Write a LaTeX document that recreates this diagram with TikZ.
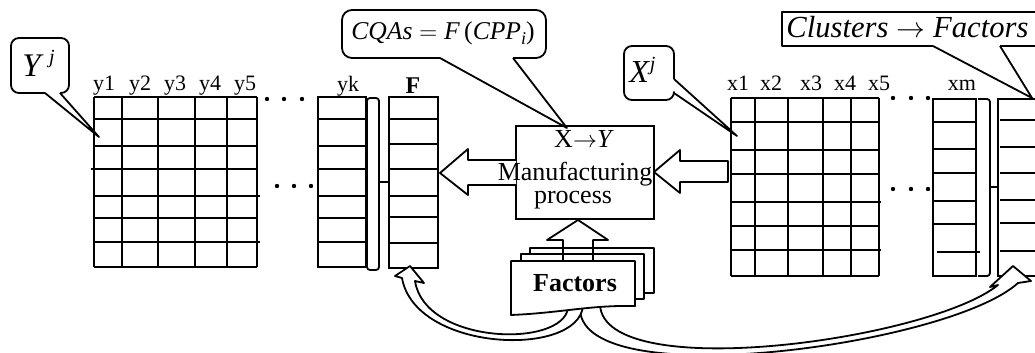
\documentclass[tikz,border=0pt]{standalone}
\usepackage{fontspec}
\setmainfont{Liberation Serif}
\newcommand{\supj}[2]{\raisebox{#1}{\fontsize{#2}{#2}\selectfont\textit{j}}}
\begin{document}
\begin{tikzpicture}[x=0.5pt,y=-0.5pt,
  ln/.style={line width=1pt},
  cl/.style={line width=0.9pt, line join=round},
  lbl/.style={anchor=base, inner sep=0pt, font=\fontsize{11}{13}\selectfont},
  txt/.style={anchor=base, inner sep=0pt, font=\fontsize{13}{15}\selectfont},
  dotm/.style={fill=black}]
\clip (0,0) rectangle (1035,353);
% ---------------- Y matrix ----------------
\foreach \x in {94,122,158,195,227,257} \draw[ln] (\x,97) -- (\x,267);
\foreach \y in {97,119,146,169,196,218,242,267} \draw[ln] (94,\y) -- (257,\y);
\draw[ln] (91,169) -- (94,169);
\draw[ln] (257,196) -- (260,196);
\draw[ln] (257,242) -- (260,242);
\foreach \x in {267,284,302} \fill (\x,99) circle[radius=2.2];
\foreach \x in {277,294,311} \fill (\x,186) circle[radius=2.2];
\draw[ln] (318,97) rectangle (366,267);
\foreach \y in {119,146,169,196,218,242} \draw[ln] (318,\y) -- (367,\y);
\draw[cl, rounded corners=1.5pt] (367,98) rectangle (379,270);
\draw[ln] (379,182) -- (389,182);
\draw[ln] (389,97) rectangle (438,268);
\foreach \y in {119,144,169,196,217,243} \draw[ln] (389,\y) -- (438,\y);
\foreach \n/\x/\t in {ly1/104/y1,ly2/140/y2,ly3/175/y3,ly4/210/y4,ly5/245/y5}
  \node[lbl] (\n) at (\x,91) {\t};
\node[lbl] (lyk) at (348,92) {yk};
\node[lbl, font=\fontsize{12}{14}\selectfont\bfseries] (lF) at (413,94) {F};
% ---------------- X matrix ----------------
\foreach \x in {731,755,788,823,851,879} \draw[ln] (\x,98) -- (\x,276);
\foreach \y in {98,122,150,174,202,226,250,276} \draw[ln] (731,\y) -- (879,\y);
\draw[ln] (879,202) -- (881,202);
\draw[ln] (879,250) -- (881,250);
\foreach \x in {893,911,928} \fill (\x,98) circle[radius=2.2];
\foreach \x in {893,911,928} \fill (\x,189) circle[radius=2.2];
\draw[ln] (933,99) rectangle (976,276);
\foreach \y in {122,149,173,201,224} \draw[ln] (933,\y) -- (976,\y);
\draw[ln] (937,252) -- (980,252);
\draw[cl, rounded corners=1.5pt] (978,99) -- (990,99) -- (990,276) -- (978,276);
\draw[ln] (990,187) -- (998,187);
\draw[ln] (998,99) rectangle (1050,276);
\foreach \y in {120,147,173,200,223,251} \draw[ln] (1000,\y) -- (1050,\y);
\foreach \n/\x/\t in {lx1/738/x1,lx2/771/x2,lx3/811/x3,lx4/845/x4,lx5/879/x5}
  \node[lbl] (\n) at (\x,91) {\t};
\node[lbl] (lxm) at (962,91) {xm};
% ---------------- callouts ----------------
\draw[cl, rounded corners=4pt] (60,93) -- (69,93) -- (69,38) -- (11,38) -- (11,93) -- (45,93);
\draw[cl] (45,93) -- (99,137) -- (60,93);
\node[anchor=base west, inner sep=0pt, font=\fontsize{16.5}{16}\selectfont] (yj) at (22,77) {\textit{Y}\,\supj{6.5pt}{10}};
\draw[cl, rounded corners=4pt] (674,79) -- (674,46) -- (624,46) -- (624,100) -- (674,100) -- (674,93);
\draw[cl] (674,79) -- (737,136) -- (674,93);
\node[anchor=base west, inner sep=0pt, font=\fontsize{16}{16}\selectfont] (xj) at (629,83) {\textit{X}\supj{6pt}{10}};
\draw[cl, rounded corners=5pt] (513,58) -- (546,58) -- (546,10) -- (342,10) -- (342,58) -- (440,58);
\draw[cl] (440,58) -- (567,128) -- (513,58);
\node[anchor=base, inner sep=0pt, font=\fontsize{12.8}{14}\selectfont] (cqa) at (443,40) {\textit{CQAs}${}={}$\textit{F}\,(\textit{CPP}\raisebox{-2pt}{\fontsize{9}{9}\selectfont\textit{i}})};
\draw[cl] (933,46) -- (782,46) -- (782,12) -- (1045,12) -- (1045,46) -- (1000,46);
\draw[cl] (933,46) -- (1032,98) -- (1000,46);
\node[anchor=base west, inner sep=0pt, font=\fontsize{15.3}{15}\selectfont] (clu) at (786,38) {\textit{Clusters}${}\rightarrow{}$\textit{Factors}};
% ---------------- manufacturing process ----------------
\draw[ln] (516,126) rectangle (654,219);
\draw[cl, fill=white] (516,160) -- (468,160) -- (468,149) -- (440,173) -- (468,195) -- (468,185) -- (516,185);
\draw[cl, fill=white] (728,161) -- (680,161) -- (680,150) -- (654,172) -- (680,193) -- (680,182) -- (728,182) -- cycle;
\node[txt] (xy) at (584,148) {X$\rightarrow$\textit{Y}};
\node[txt] (man) at (575,181) {Manufacturing};
\node[txt] (pro) at (573,204) {process};
% ---------------- curved arrows ----------------
\draw[cl, fill=white] (580,300) -- (580,310) .. controls (585,395) and (950,345) .. (1018,283)
  -- (1031,281) -- (1013,266) -- (990,287) -- (998,285)
  .. controls (930,340) and (605,385) .. (600,305) -- (600,300) -- cycle;
\draw[cl, fill=white] (583,300) -- (583,306) .. controls (578,358) and (415,352) .. (402,278)
  -- (395,276) -- (410,266) -- (424,283) -- (415,281)
  .. controls (425,345) and (563,348) .. (568,308) -- (568,300) -- cycle;
% ---------------- factors stack ----------------
\draw[cl, fill=white] (530,248) -- (654,248) -- (654,293) -- (530,293) -- cycle;
\draw[cl, fill=white] (521,254) -- (644,254) -- (644,299) -- (521,299) -- cycle;
\draw[cl, fill=white] (511,261) -- (635,261) -- (635,306) .. controls (590,305) and (560,313) .. (511,315) -- cycle;
\node[txt, font=\fontsize{13}{15}\selectfont\bfseries] (fac) at (575,292) {Factors};
\draw[cl] (563,261) -- (563,240) -- (547,240) -- (578,220) -- (608,240) -- (593,240) -- (593,261);
\end{tikzpicture}
\end{document}
